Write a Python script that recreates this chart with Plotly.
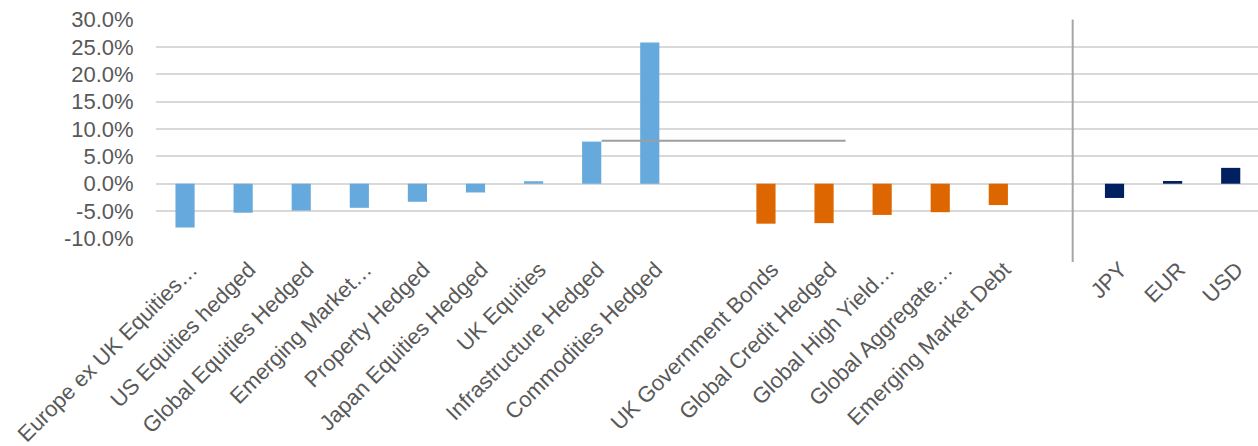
import plotly.graph_objects as go

# ---- data ----
equity_labels = ["Europe ex UK Equities…", "US Equities hedged", "Global Equities Hedged",
                 "Emerging Market…", "Property Hedged", "Japan Equities Hedged",
                 "UK Equities", "Infrastructure Hedged", "Commodities Hedged"]
equity_values = [-8.0, -5.3, -4.9, -4.4, -3.3, -1.6, 0.45, 7.7, 25.8]

bond_labels = ["UK Government Bonds", "Global Credit Hedged", "Global High Yield…",
               "Global Aggregate…", "Emerging Market Debt"]
bond_values = [-7.3, -7.2, -5.7, -5.2, -3.9]

fx_labels = ["JPY", "EUR", "USD"]
fx_values = [-2.6, 0.5, 2.9]

# positions along the category axis (gaps between groups)
equity_pos = list(range(0, 9))
bond_pos = list(range(10, 15))
fx_pos = list(range(16, 19))

# reference line (grey horizontal) and group divider (grey vertical)
ref_line_x = [7.17, 11.37]
ref_line_y = [7.85, 7.85]
divider_x = 15.28
divider_y = [30.0, -14.3]

y_ticks = [-10, -5, 0, 5, 10, 15, 20, 25, 30]
y_ticklabels = [f"{v:.1f}%" for v in y_ticks]

# ---- style ----
BLUE = "#66AADD"
ORANGE = "#DD6600"
NAVY = "#002060"
TXT = "#595959"
FONT = "Liberation Sans, Arial, sans-serif"
XR = [-0.5, 18.47]
YR = [-10.1, 30.1]
BW = 0.33

fig = go.Figure()
fig.add_trace(go.Bar(x=equity_pos, y=equity_values, marker_color=BLUE, width=BW,
                     marker_line_width=0, name="Equities"))
fig.add_trace(go.Bar(x=bond_pos, y=bond_values, marker_color=ORANGE, width=BW,
                     marker_line_width=0, name="Bonds"))
fig.add_trace(go.Bar(x=fx_pos, y=fx_values, marker_color=NAVY, width=BW,
                     marker_line_width=0, name="FX"))
fig.add_trace(go.Scatter(x=ref_line_x, y=ref_line_y, mode="lines",
                         line=dict(color="#9E9E9E", width=2), hoverinfo="skip"))

# divider line drawn in paper coordinates derived from axis ranges
px = (divider_x - XR[0]) / (XR[1] - XR[0])
py0 = (divider_y[0] - YR[0]) / (YR[1] - YR[0])
py1 = (divider_y[1] - YR[0]) / (YR[1] - YR[0])
fig.add_shape(type="line", xref="paper", yref="paper", x0=px, x1=px, y0=py0, y1=py1,
              line=dict(color="#A6A6A6", width=2))

tickvals = equity_pos + bond_pos + fx_pos
ticktext = equity_labels + bond_labels + fx_labels

fig.update_layout(
    width=1258, height=446,
    margin=dict(l=156, r=0, t=19, b=207),
    paper_bgcolor="white", plot_bgcolor="white",
    showlegend=False, barmode="overlay",
    font=dict(family=FONT, size=22, color=TXT),
)
fig.update_xaxes(range=XR, tickvals=tickvals, ticktext=ticktext, tickangle=-45,
                 showgrid=False, zeroline=False, showline=False, automargin=False,
                 ticks="outside", ticklen=8, tickcolor="rgba(0,0,0,0)",
                 ticklabelshift=6,
                 tickfont=dict(family=FONT, size=22, color=TXT))
fig.update_yaxes(range=YR, tickvals=y_ticks, ticktext=y_ticklabels, automargin=False,
                 showgrid=True, gridcolor="#D9D9D9", gridwidth=1.5,
                 zeroline=True, zerolinecolor="#D9D9D9", zerolinewidth=1.5,
                 showline=False, ticks="outside", ticklen=17, tickcolor="rgba(0,0,0,0)",
                 tickfont=dict(family=FONT, size=22, color=TXT))

fig.write_html("out.html",
               config={"displayModeBar": False},
               post_script="document.body.style.margin='0';document.body.style.overflow='hidden';")
